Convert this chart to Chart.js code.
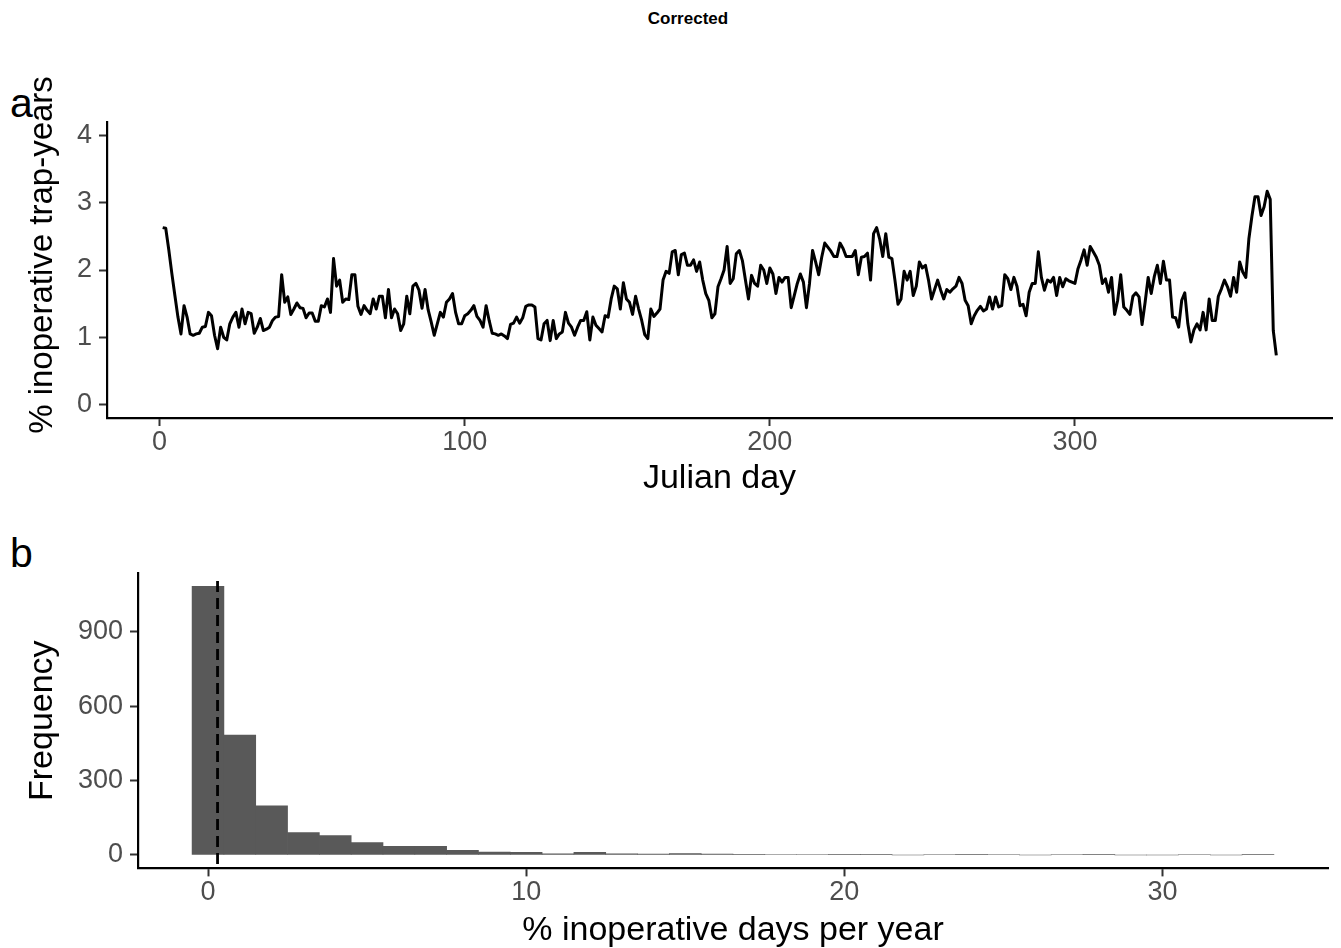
<!DOCTYPE html>
<html>
<head>
<meta charset="utf-8">
<script src="https://cdn.jsdelivr.net/npm/chart.js@4.4.1/dist/chart.umd.min.js"></script>
<style>
  html, body { margin: 0; padding: 0; background: #fff; overflow: hidden; }
  body { width: 1341px; height: 948px; position: relative; font-family: "Liberation Sans", Arial, sans-serif; }
  canvas { position: absolute; left: 0; }
  #chartA { top: 0; }
  #chartB { top: 510px; }
  .tag { position: absolute; font-size: 41px; line-height: 41px; color: #000; }
  #mainTitle { position: absolute; top: 10px; left: 0; width: 1376px; text-align: center;
               font-weight: bold; font-size: 17px; line-height: 17px; color: #000; }
</style>
</head>
<body>
<div id="mainTitle">Corrected</div>
<div class="tag" style="left:10px;top:83px">a</div>
<div class="tag" style="left:10px;top:533px">b</div>
<canvas id="chartA" width="1341" height="510"></canvas>
<canvas id="chartB" width="1341" height="470"></canvas>
<script>
// Panel a: daily percentage of inoperative trap-years (Julian day 1..366)
const inoperativePct = [
  2.63, 2.62, 2.30, 1.95, 1.62, 1.30, 1.05, 1.47, 1.30, 1.05,
  1.03, 1.05, 1.06, 1.15, 1.16, 1.37, 1.32, 1.03, 0.83, 1.15,
  1.00, 0.96, 1.20, 1.30, 1.37, 1.15, 1.42, 1.20, 1.37, 1.35,
  1.06, 1.15, 1.28, 1.10, 1.12, 1.15, 1.25, 1.30, 1.31, 1.93,
  1.52, 1.60, 1.34, 1.42, 1.51, 1.44, 1.43, 1.29, 1.36, 1.36,
  1.24, 1.24, 1.47, 1.45, 1.57, 1.37, 2.17, 1.76, 1.85, 1.52,
  1.57, 1.56, 1.93, 1.93, 1.46, 1.34, 1.47, 1.40, 1.35, 1.57,
  1.42, 1.61, 1.61, 1.29, 1.71, 1.29, 1.42, 1.35, 1.10, 1.20,
  1.61, 1.35, 1.76, 1.80, 1.70, 1.43, 1.71, 1.41, 1.23, 1.03,
  1.20, 1.37, 1.30, 1.52, 1.57, 1.65, 1.37, 1.20, 1.20, 1.32,
  1.35, 1.40, 1.47, 1.31, 1.25, 1.15, 1.47, 1.25, 1.06, 1.05,
  1.03, 1.05, 1.02, 0.98, 1.19, 1.21, 1.30, 1.21, 1.29, 1.46,
  1.48, 1.48, 1.45, 0.98, 0.96, 1.20, 1.25, 0.95, 1.25, 0.98,
  1.05, 1.08, 1.37, 1.21, 1.15, 1.03, 1.15, 1.25, 1.25, 1.38,
  0.96, 1.30, 1.18, 1.13, 1.08, 1.32, 1.30, 1.57, 1.76, 1.72,
  1.42, 1.81, 1.57, 1.52, 1.34, 1.61, 1.42, 1.25, 1.04, 0.98,
  1.42, 1.31, 1.36, 1.42, 1.85, 1.98, 1.95, 2.27, 2.29, 1.93,
  2.23, 2.25, 2.07, 2.07, 2.15, 1.98, 2.12, 1.85, 1.65, 1.55,
  1.29, 1.35, 1.75, 1.87, 2.00, 2.35, 1.80, 1.87, 2.24, 2.29,
  2.14, 1.85, 1.57, 1.92, 1.80, 1.76, 2.07, 2.00, 1.80, 2.03,
  1.94, 1.65, 1.89, 1.82, 1.89, 1.89, 1.44, 1.62, 1.80, 1.94,
  1.82, 1.44, 1.80, 2.29, 2.12, 1.93, 2.19, 2.40, 2.34, 2.28,
  2.20, 2.20, 2.40, 2.32, 2.20, 2.20, 2.20, 2.29, 1.93, 2.19,
  2.20, 2.25, 1.85, 2.54, 2.63, 2.46, 2.20, 2.54, 2.19, 2.17,
  1.85, 1.49, 1.57, 1.98, 1.85, 1.98, 1.62, 1.76, 2.12, 2.03,
  2.07, 1.85, 1.57, 1.71, 1.85, 1.70, 1.57, 1.71, 1.67, 1.72,
  1.76, 1.89, 1.80, 1.55, 1.47, 1.20, 1.32, 1.40, 1.46, 1.39,
  1.42, 1.60, 1.42, 1.60, 1.45, 1.47, 1.93, 1.87, 1.71, 1.89,
  1.76, 1.47, 1.49, 1.32, 1.67, 1.80, 1.80, 2.27, 1.89, 1.70,
  1.85, 1.82, 1.89, 1.62, 1.89, 1.75, 1.87, 1.84, 1.82, 1.80,
  2.02, 2.15, 2.30, 2.07, 2.35, 2.27, 2.19, 2.07, 1.80, 1.87,
  1.67, 1.89, 1.34, 1.55, 1.93, 1.45, 1.40, 1.34, 1.61, 1.66,
  1.60, 1.19, 1.52, 1.89, 1.65, 1.90, 2.07, 1.80, 2.13, 1.85,
  1.85, 1.30, 1.29, 1.15, 1.55, 1.66, 1.20, 0.93, 1.11, 1.20,
  1.11, 1.37, 1.11, 1.57, 1.25, 1.25, 1.61, 1.72, 1.85, 1.75,
  1.61, 1.89, 1.67, 2.12, 1.97, 1.89, 2.46, 2.80, 3.09, 3.09,
  2.81, 2.94, 3.17, 3.05, 1.10, 0.73
];
const julianDays = inoperativePct.map((_, i) => i + 1);
const dayTicks = [0, 100, 200, 300];
const pctTicks = [0, 1, 2, 3, 4];

// Panel b: histogram of % inoperative days per year (bins of width 1, centred on integers)
const binCentres = [
  0, 1, 2, 3, 4, 5, 6, 7, 8, 9, 10, 11, 12, 13, 14, 15, 16,
  17, 18, 19, 20, 21, 22, 23, 24, 25, 26, 27, 28, 29, 30, 31, 32, 33
];
const binCounts = [
  1083, 484, 198, 90, 78, 50, 35, 35, 19, 12, 11, 5, 11, 5, 4, 6, 4,
  1, 2, 2, 1, 1, 0, 2, 1, 2, 0, 2, 1, 0, 0, 2, 0, 1
];
const medianPct = 0.3;
const pctDayTicks = [0, 10, 20, 30];
const freqTicks = [0, 300, 600, 900];

const FONT = '"Liberation Sans", Arial, sans-serif';
Chart.defaults.font.family = FONT;
Chart.defaults.animation = false;

function axis(opts) {
  const isX = opts.kind === 'x';
  const showTitle = !!opts.title;
  return {
    type: 'linear',
    position: isX ? 'bottom' : 'left',
    min: opts.min,
    max: opts.max,
    offset: false,
    afterBuildTicks: (scale) => { scale.ticks = opts.ticks.map(v => ({ value: v })); },
    afterFit: (scale) => {
      if (isX) scale.height = opts.size; else scale.width = opts.size;
    },
    border: { display: true, color: '#000', width: 2.2 },
    grid: {
      display: true, offset: false, drawOnChartArea: false, drawTicks: true,
      tickLength: 8, tickWidth: 2, tickColor: '#333333', color: 'rgba(0,0,0,0)'
    },
    ticks: {
      color: '#4D4D4D',
      font: { size: 27 },
      padding: opts.tickPad,
      maxRotation: 0,
      autoSkip: false,
      callback: (v) => String(v)
    },
    title: {
      display: showTitle,
      text: opts.title || '',
      color: '#000',
      font: { size: 34 },
      padding: opts.titlePad || 0
    }
  };
}

// rotated y-axis title placed by its own centre
function yTitlePlugin(text, cx, cy, size) {
  return {
    id: 'yTitle',
    afterDraw(chart) {
      const ctx = chart.ctx;
      ctx.save();
      ctx.translate(cx, cy);
      ctx.rotate(-Math.PI / 2);
      ctx.fillStyle = '#000';
      ctx.font = size + 'px ' + FONT;
      ctx.textAlign = 'center';
      ctx.textBaseline = 'middle';
      ctx.fillText(text, 0, 0);
      ctx.restore();
    }
  };
}

new Chart(document.getElementById('chartA'), {
  type: 'line',
  data: {
    datasets: [{
      data: julianDays.map((d, i) => ({ x: d, y: inoperativePct[i] })),
      borderColor: '#000',
      borderWidth: 3,
      borderJoinStyle: 'round',
      pointRadius: 0,
      tension: 0,
      fill: false
    }]
  },
  options: {
    responsive: false,
    devicePixelRatio: 1,
    layout: { padding: { left: 0, right: 9, top: 122, bottom: 0 } },
    plugins: { legend: { display: false }, tooltip: { enabled: false } },
    scales: {
      x: axis({ kind: 'x', min: -17.25, max: 384.25, ticks: dayTicks, size: 92,
                tickPad: 0, title: 'Julian day', titlePad: { top: 0, bottom: 11 } }),
      y: axis({ kind: 'y', min: -0.2, max: 4.2, ticks: pctTicks, size: 107, tickPad: 7 })
    }
  },
  plugins: [yTitlePlugin('% inoperative trap-years', 43, 255, 33)]
});

// dashed reference line at the median value
const medianLinePlugin = {
  id: 'medianLine',
  afterDatasetsDraw(chart) {
    const { ctx, chartArea, scales } = chart;
    const x = scales.x.getPixelForValue(medianPct);
    ctx.save();
    ctx.strokeStyle = '#000';
    ctx.lineWidth = 2.8;
    ctx.setLineDash([11, 6]);
    ctx.beginPath();
    ctx.moveTo(x, chartArea.top + 8);
    ctx.lineTo(x, chartArea.bottom);
    ctx.stroke();
    ctx.restore();
  }
};

new Chart(document.getElementById('chartB'), {
  type: 'bar',
  data: {
    datasets: [{
      data: binCentres.map((c, i) => ({ x: c, y: binCounts[i] })),
      backgroundColor: '#595959',
      borderWidth: 0,
      barPercentage: 1,
      categoryPercentage: 1
    }]
  },
  options: {
    responsive: false,
    devicePixelRatio: 1,
    layout: { padding: { left: 0, right: 13, top: 63, bottom: 0 } },
    plugins: { legend: { display: false }, tooltip: { enabled: false } },
    scales: {
      x: axis({ kind: 'x', min: -2.2, max: 35.2, ticks: pctDayTicks, size: 111.6,
                tickPad: 0, title: '% inoperative days per year', titlePad: { top: 0, bottom: 28.6 } }),
      y: axis({ kind: 'y', min: -54.15, max: 1137.15, ticks: freqTicks, size: 138,
                tickPad: 7, title: 'Frequency', titlePad: { top: 22.6, bottom: 0 } })
    }
  },
  plugins: [medianLinePlugin]
});
</script>
</body>
</html>
